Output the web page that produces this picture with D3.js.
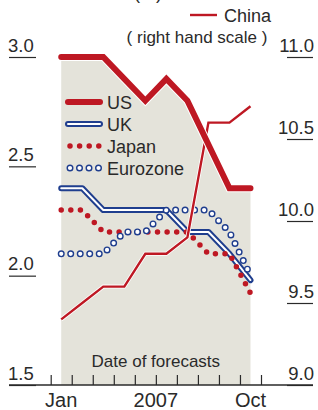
<!DOCTYPE html>
<html>
<head>
<meta charset="utf-8">
<script src="https://cdn.jsdelivr.net/npm/d3@7"></script>
<style>
  html, body { margin: 0; padding: 0; background: #fff; }
  svg { display: block; }
  text { font-family: "Liberation Sans", Arial, sans-serif; fill: #2a2a2a; }
</style>
</head>
<body>
<script>
// ---- data ----
const months = ["Jan","Feb","Mar","Apr","May","Jun","Jul","Aug","Sep","Oct"];
const us     = [3.0, 3.0, 3.0, 2.9, 2.8, 2.9, 2.8, 2.6, 2.4, 2.4];
const uk     = [2.4, 2.4, 2.3, 2.3, 2.3, 2.3, 2.2, 2.2, 2.1, 1.98];
const japan  = [2.3, 2.3, 2.2, 2.2, 2.2, 2.2, 2.2, 2.1, 2.1, 1.92];
const euro   = [2.1, 2.1, 2.1, 2.2, 2.2, 2.3, 2.3, 2.3, 2.2, 2.0];
const china  = [9.4, 9.5, 9.6, 9.6, 9.8, 9.8, 9.9, 10.6, 10.6, 10.7];
const leftTicks  = [3.0, 2.5, 2.0, 1.5];
const rightTicks = [11.0, 10.5, 10.0, 9.5, 9.0];
const xLabels = [{i: 0, t: "Jan"}, {i: 4.5, t: "2007"}, {i: 9, t: "Oct"}];
const legendItems = ["US", "UK", "Japan", "Eurozone"];

const W = 318, H = 410;
const RED = "#be1823", BLUE = "#1f3e8e", SHADE = "#e4e3da";

const svg = d3.select("body").append("svg").attr("width", W).attr("height", H);

const x = d3.scaleLinear().domain([-0.5, 9.5]).range([50.7, 261]);
const yL = d3.scaleLinear().domain([1.5, 3.0]).range([385, 57]);
const yR = d3.scaleLinear().domain([9.0, 11.0]).range([385, 57]);

// shaded area under US
svg.append("path")
  .datum(us)
  .attr("fill", SHADE)
  .attr("d", d3.area().x((d, i) => x(i)).y0(yL(1.5)).y1(d => yL(d)));

// "Date of forecasts"
svg.append("text").attr("x", x(4.5)).attr("y", 367).attr("text-anchor", "middle")
  .style("font-size", "17px").text("Date of forecasts");

// left axis
const gL = svg.append("g").attr("transform", "translate(9,0)")
  .call(d3.axisRight(yL).tickValues(leftTicks).tickSize(27).tickFormat(d3.format(".1f")));
gL.select(".domain").remove();
gL.selectAll(".tick line").attr("stroke", "#2a2a2a").attr("stroke-width", 1.2);
gL.selectAll(".tick text").attr("x", -1).attr("dy", "-6").attr("text-anchor", "start")
  .style("font-size", "18.5px").style("font-family", "Liberation Sans, Arial, sans-serif").attr("fill", "#2a2a2a");

// right axis
const gR = svg.append("g").attr("transform", "translate(313,0)")
  .call(d3.axisLeft(yR).tickValues(rightTicks).tickSize(26).tickFormat(d3.format(".1f")));
gR.select(".domain").remove();
gR.selectAll(".tick line").attr("stroke", "#2a2a2a").attr("stroke-width", 1.2);
gR.selectAll(".tick text").attr("x", 1).attr("dy", "-6").attr("text-anchor", "end")
  .style("font-size", "18.5px").style("font-family", "Liberation Sans, Arial, sans-serif").attr("fill", "#2a2a2a");

// x axis baseline
svg.append("line").attr("x1", 9).attr("x2", 313).attr("y1", yL(1.5)).attr("y2", yL(1.5))
  .attr("stroke", "#2a2a2a").attr("stroke-width", 1.5);
const bounds = d3.range(-0.5, 10, 1);
const gX = svg.append("g").attr("transform", `translate(0,${yL(1.5)})`)
  .call(d3.axisBottom(x).tickValues(bounds).tickSize(-10).tickFormat(""));
gX.select(".domain").remove();
gX.selectAll(".tick line").attr("stroke", "#2a2a2a").attr("stroke-width", 1.2);
svg.selectAll(".xlab").data(xLabels).enter().append("text")
  .attr("x", d => x(d.i)).attr("y", 407).attr("text-anchor", "middle")
  .style("font-size", "20px").text(d => d.t);

// line generators
const lineL = d3.line().x((d, i) => x(i)).y(d => yL(d));
const lineR = d3.line().x((d, i) => x(i)).y(d => yR(d));

// UK: double line
svg.append("path").datum(uk).attr("d", lineL).attr("fill", "none")
  .attr("stroke", BLUE).attr("stroke-width", 6).attr("stroke-linecap", "round").attr("stroke-linejoin", "round");
svg.append("path").datum(uk).attr("d", lineL).attr("fill", "none")
  .attr("stroke", "#fff").attr("stroke-width", 2).attr("stroke-linecap", "round").attr("stroke-linejoin", "round");

// Japan: dots
svg.append("path").datum(japan).attr("d", lineL).attr("fill", "none")
  .attr("stroke", RED).attr("stroke-width", 5.5).attr("stroke-linecap", "round")
  .attr("stroke-dasharray", "0,9.6");

// Eurozone: open circles
svg.append("path").datum(euro).attr("d", lineL).attr("fill", "none")
  .attr("stroke", BLUE).attr("stroke-width", 7).attr("stroke-linecap", "round")
  .attr("stroke-dasharray", "0,9.5");
svg.append("path").datum(euro).attr("d", lineL).attr("fill", "none")
  .attr("stroke", "#fff").attr("stroke-width", 4.2).attr("stroke-linecap", "round")
  .attr("stroke-dasharray", "0,9.5");

// China
svg.append("path").datum(china).attr("d", lineR).attr("fill", "none")
  .attr("stroke", "#fff").attr("stroke-width", 4).attr("stroke-linejoin", "miter");
svg.append("path").datum(china).attr("d", lineR).attr("fill", "none")
  .attr("stroke", RED).attr("stroke-width", 2.4).attr("stroke-linejoin", "miter");

// US
svg.append("path").datum(us).attr("d", lineL).attr("fill", "none")
  .attr("stroke", "#fff").attr("stroke-width", 8).attr("stroke-linecap", "round").attr("stroke-linejoin", "miter");
svg.append("path").datum(us).attr("d", lineL).attr("fill", "none")
  .attr("stroke", RED).attr("stroke-width", 6).attr("stroke-linecap", "round").attr("stroke-linejoin", "miter");

// legend
const lg = svg.append("g");
const rowY = i => 102 + i * 22;
const sx0 = 68, sx1 = 100;
const sample = d3.line();
// US
lg.append("path").attr("d", sample([[sx0, rowY(0)], [sx1, rowY(0)]]))
  .attr("stroke", RED).attr("stroke-width", 6).attr("stroke-linecap", "round");
// UK
lg.append("path").attr("d", sample([[sx0, rowY(1)], [sx1, rowY(1)]]))
  .attr("stroke", BLUE).attr("stroke-width", 6).attr("stroke-linecap", "round");
lg.append("path").attr("d", sample([[sx0, rowY(1)], [sx1, rowY(1)]]))
  .attr("stroke", "#fff").attr("stroke-width", 2).attr("stroke-linecap", "round");
// Japan
lg.append("path").attr("d", sample([[70, rowY(2)], [100, rowY(2)]]))
  .attr("stroke", RED).attr("stroke-width", 5.5).attr("stroke-linecap", "round").attr("stroke-dasharray", "0,9.6");
// Eurozone
lg.append("path").attr("d", sample([[70, rowY(3)], [100, rowY(3)]]))
  .attr("stroke", BLUE).attr("stroke-width", 7).attr("stroke-linecap", "round").attr("stroke-dasharray", "0,9.5");
lg.append("path").attr("d", sample([[70, rowY(3)], [100, rowY(3)]]))
  .attr("stroke", "#fff").attr("stroke-width", 4.2).attr("stroke-linecap", "round").attr("stroke-dasharray", "0,9.5");
lg.selectAll(".lt").data(legendItems).enter().append("text")
  .attr("x", 107).attr("y", (d, i) => rowY(i) + 6.5).style("font-size", "18px").text(d => d);

// China legend
svg.append("path").attr("d", sample([[190, 15], [217, 15]]))
  .attr("stroke", RED).attr("stroke-width", 2.4);
svg.append("text").attr("x", 224).attr("y", 21.5).style("font-size", "18px").text("China");
svg.append("text").attr("x", 197).attr("y", 43).attr("text-anchor", "middle")
  .style("font-size", "17px").attr("xml:space", "preserve").text("( right hand scale )");

// partially cut title unit (cut off at top edge, as in the reference)
svg.append("text").attr("x", 148).attr("y", -1).attr("text-anchor", "middle")
  .style("font-size", "18px").text("(%)");
</script>
</body>
</html>
